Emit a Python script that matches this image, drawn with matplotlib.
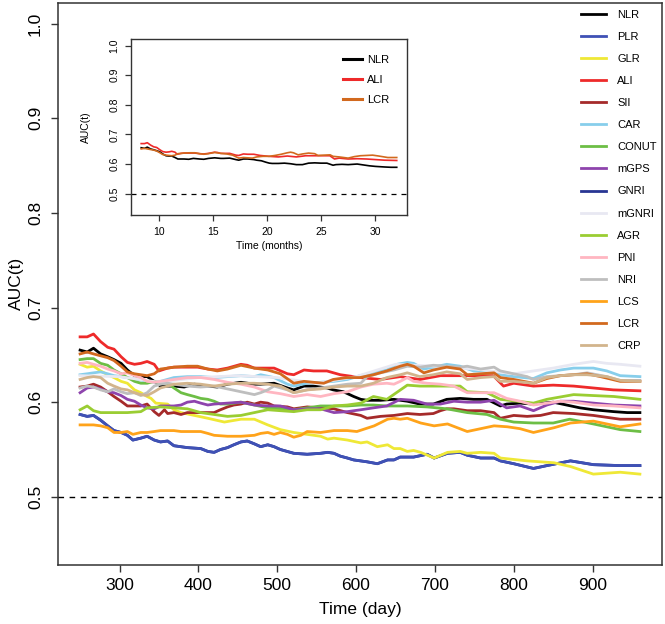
import matplotlib
matplotlib.use("Agg")
import matplotlib.pyplot as plt
from matplotlib.lines import Line2D

plt.rcParams['font.family'] = ['Liberation Sans', 'DejaVu Sans']

# ---------------- data (time in days, AUC(t)) ----------------
NLR_days = [250,259,267,276,285,293,302,310,319,327,335,344,352,361,369,382,395,412,424,437,
            454,471,479,496,513,521,534,546,563,571,584,597,606,614,631,648,665,681,698,715,
            732,749,766,783,791,808,825,850,867,884,901,927,944,960]
NLR_vals = [.655,.653,.657,.651,.648,.645,.641,.634,.628,.627,.627,.622,.617,.617,.617,.616,.619,.617,.616,.619,
            .621,.619,.619,.620,.615,.613,.617,.617,.615,.613,.611,.606,.603,.602,.602,.603,.601,.598,.598,.603,
            .604,.603,.603,.596,.598,.599,.598,.600,.597,.594,.592,.590,.589,.589]

PLR_days = [250,259,267,276,285,293,302,310,317,327,335,344,352,361,369,386,403,412,420,428,
            437,445,454,462,471,479,488,496,504,521,538,555,564,572,580,589,597,614,627,640,
            648,656,673,690,699,716,732,741,758,775,783,800,825,842,872,901,935,960]
PLR_vals = [.587,.585,.586,.581,.575,.570,.568,.565,.560,.562,.564,.560,.558,.559,.554,.552,.551,.548,.547,.550,
            .552,.555,.558,.559,.556,.553,.555,.553,.550,.546,.545,.546,.547,.546,.543,.541,.539,.537,.535,.539,
            .539,.542,.542,.545,.541,.546,.547,.544,.541,.541,.538,.535,.530,.533,.538,.534,.533,.533]

GLR_days = [250,259,267,276,285,293,302,310,319,327,335,340,346,361,369,378,395,412,433,454,
            471,488,504,521,538,555,564,572,589,606,614,627,640,648,656,665,673,682,699,716,
            732,741,758,775,783,817,851,872,901,935,960]
GLR_vals = [.640,.637,.638,.633,.629,.626,.622,.620,.613,.610,.606,.604,.599,.598,.592,.589,.586,.583,.579,.582,
            .582,.576,.571,.568,.566,.564,.561,.562,.560,.557,.558,.553,.555,.551,.551,.548,.549,.547,.541,.547,
            .548,.546,.547,.546,.541,.538,.536,.532,.524,.526,.524]

ALI_days = [250,259,267,276,285,293,302,310,319,327,335,344,350,361,369,386,399,412,424,437,
            454,462,471,488,496,513,521,534,546,563,580,597,605,631,656,681,707,732,749,774,
            787,800,825,850,876,901,926,960]
ALI_vals = [.669,.669,.672,.664,.658,.656,.648,.642,.640,.641,.643,.640,.633,.636,.637,.637,.637,.635,.634,.636,
            .640,.639,.636,.636,.636,.630,.629,.634,.633,.633,.629,.627,.626,.624,.627,.624,.628,.628,.628,.628,
            .617,.620,.617,.618,.617,.615,.613,.612]

SII_days = [250,259,267,276,285,293,302,310,319,327,335,344,350,357,361,369,378,386,403,420,
            428,437,445,454,462,471,479,488,496,513,521,538,555,572,589,606,614,631,648,665,
            681,698,707,715,724,741,758,775,783,800,817,834,850,876,901,935,960]
SII_vals = [.616,.617,.619,.616,.611,.606,.601,.596,.596,.596,.598,.590,.586,.592,.588,.589,.587,.589,.589,.589,
            .592,.595,.597,.598,.600,.598,.600,.599,.596,.595,.593,.595,.594,.593,.589,.586,.583,.585,.586,.588,
            .587,.588,.591,.593,.593,.591,.591,.589,.583,.586,.585,.586,.589,.588,.586,.582,.582]

CAR_days = [250,259,267,276,285,293,302,310,323,335,344,352,369,386,403,420,437,454,471,479,
            496,513,521,538,555,572,589,605,622,639,652,665,673,686,698,715,732,749,766,783,
            800,825,842,859,876,901,918,935,960]
CAR_vals = [.629,.630,.631,.632,.630,.628,.627,.626,.624,.622,.621,.622,.626,.627,.627,.626,.627,.628,.627,.629,
            .626,.619,.617,.620,.621,.622,.624,.628,.631,.634,.640,.642,.641,.635,.637,.640,.638,.633,.633,.629,
            .627,.625,.631,.634,.636,.636,.633,.628,.627]

CONUT_days = [250,259,267,276,285,293,302,310,319,327,335,344,352,361,369,378,386,395,403,412,
              420,428,437,454,471,488,504,521,538,555,572,589,606,622,639,665,690,715,741,766,
              783,800,825,850,871,901,935,960]
CONUT_vals = [.645,.646,.646,.641,.639,.634,.630,.626,.622,.620,.620,.622,.620,.620,.615,.610,.608,.606,.604,.603,
              .601,.598,.598,.600,.597,.594,.593,.592,.594,.596,.596,.596,.597,.597,.596,.596,.595,.593,.589,.587,
              .582,.579,.578,.578,.582,.577,.571,.569]

mGPS_days = [250,259,267,276,285,293,302,310,319,327,335,344,352,361,369,378,386,395,403,412,
             420,437,454,471,488,504,521,538,555,572,589,606,622,639,656,673,690,707,724,741,
             758,775,791,808,825,842,859,876,901,927,960]
mGPS_vals = [.610,.615,.616,.614,.611,.610,.607,.603,.601,.597,.594,.593,.596,.596,.596,.597,.600,.601,.599,.597,
             .598,.599,.600,.597,.596,.596,.592,.593,.593,.589,.590,.592,.594,.596,.603,.602,.598,.598,.601,.600,
             .600,.602,.594,.596,.591,.597,.601,.601,.599,.597,.596]

# GNRI is hidden beneath PLR in the reference
GNRI_days = PLR_days
GNRI_vals = PLR_vals

mGNRI_days = [250,300,350,400,450,500,550,600,650,700,750,800,850,876,901,918,935,960]
mGNRI_vals = [.628,.627,.621,.626,.628,.626,.620,.627,.640,.638,.635,.630,.636,.640,.643,.641,.640,.638]

AGR_days = [250,259,267,276,293,310,327,335,352,369,386,403,420,437,454,471,488,504,521,538,
            555,572,589,606,622,639,665,681,707,732,741,766,783,825,842,876,901,927,960]
AGR_vals = [.592,.596,.591,.589,.589,.589,.590,.594,.595,.594,.593,.589,.587,.585,.586,.589,.592,.591,.590,.592,
            .592,.596,.597,.599,.606,.603,.618,.617,.617,.617,.611,.610,.603,.599,.603,.608,.607,.606,.603]

PNI_days = [250,259,267,276,285,293,302,310,319,327,335,344,352,361,369,386,403,420,437,454,
            471,488,504,521,538,555,572,589,606,622,639,648,656,665,673,690,707,724,741,758,
            775,791,808,825,842,859,876,901,927,960]
PNI_vals = [.641,.642,.640,.638,.635,.633,.630,.631,.628,.626,.622,.621,.622,.623,.624,.626,.626,.624,.621,.619,
            .616,.611,.609,.606,.608,.606,.609,.611,.616,.619,.620,.619,.622,.626,.622,.620,.619,.617,.610,.610,
            .610,.604,.601,.597,.599,.601,.600,.597,.596,.594]

NRI_days = [250,259,267,276,285,293,302,310,319,327,335,344,352,361,369,386,403,420,437,454,
            471,479,488,496,513,521,538,555,572,589,606,614,631,648,665,681,698,715,732,741,
            758,775,783,800,817,825,842,859,876,893,918,935,960]
NRI_vals = [.615,.617,.616,.613,.611,.614,.611,.609,.610,.607,.610,.617,.619,.620,.619,.617,.616,.617,.614,.611,
            .608,.610,.613,.617,.613,.610,.613,.615,.617,.619,.620,.627,.631,.634,.638,.637,.639,.638,.637,.638,
            .635,.637,.633,.630,.627,.624,.627,.628,.629,.631,.627,.623,.623]

LCS_days = [250,259,267,276,285,293,302,310,317,327,335,344,352,369,378,386,403,412,420,437,
            454,471,479,488,496,504,513,521,530,538,555,572,589,601,623,640,648,656,665,682,
            699,716,741,758,775,792,808,825,851,872,901,935,960]
LCS_vals = [.576,.576,.576,.575,.573,.568,.568,.569,.566,.568,.568,.569,.570,.570,.569,.569,.569,.567,.565,.564,
            .564,.565,.567,.568,.566,.568,.566,.563,.565,.569,.568,.570,.570,.569,.575,.582,.583,.582,.583,.578,
            .575,.577,.569,.572,.575,.574,.572,.568,.573,.578,.580,.574,.577]

LCR_days = [250,259,267,276,285,293,302,310,319,327,335,344,352,361,369,386,399,412,424,437,
            454,471,488,504,521,534,546,559,571,588,605,622,639,656,665,673,686,698,715,732,
            741,758,775,783,800,825,842,859,876,893,910,935,960]
LCR_vals = [.651,.653,.651,.649,.647,.644,.638,.632,.630,.629,.628,.630,.635,.636,.637,.638,.638,.635,.633,.635,
            .639,.636,.634,.630,.620,.622,.621,.620,.624,.626,.626,.629,.633,.638,.640,.638,.631,.634,.637,.635,
            .629,.630,.631,.626,.624,.620,.625,.628,.629,.630,.627,.622,.622]

CRP_days = [250,259,267,276,285,293,302,310,319,327,335,344,352,361,369,386,403,420,437,454,
            471,488,504,521,538,555,572,589,606,622,639,656,665,681,698,715,732,741,758,775,
            783,800,825,842,859,876,893,918,935,960]
CRP_vals = [.624,.626,.627,.626,.620,.617,.614,.613,.610,.608,.607,.611,.615,.617,.619,.620,.619,.617,.619,.620,
            .620,.619,.617,.610,.613,.614,.616,.617,.617,.620,.626,.629,.631,.627,.629,.632,.630,.624,.626,.627,
            .622,.622,.620,.626,.628,.629,.629,.627,.623,.622]

markers = ["NLR", "PLR", "GLR", "ALI", "SII", "CAR", "CONUT", "mGPS", "GNRI", "mGNRI",
           "AGR", "PNI", "NRI", "LCS", "LCR", "CRP"]
colors = ["#000000", "#3F51B5", "#EFE836", "#EE2A2A", "#A52A2A", "#87CEEB", "#6DBE45", "#8E44AD",
          "#283593", "#E8E8F2", "#9ACD32", "#FFB6C1", "#BEBEBE", "#FFA31A", "#D2691E", "#D2B48C"]
series = {
    "NLR": (NLR_days, NLR_vals), "PLR": (PLR_days, PLR_vals), "GLR": (GLR_days, GLR_vals),
    "ALI": (ALI_days, ALI_vals), "SII": (SII_days, SII_vals), "CAR": (CAR_days, CAR_vals),
    "CONUT": (CONUT_days, CONUT_vals), "mGPS": (mGPS_days, mGPS_vals), "GNRI": (GNRI_days, GNRI_vals),
    "mGNRI": (mGNRI_days, mGNRI_vals), "AGR": (AGR_days, AGR_vals), "PNI": (PNI_days, PNI_vals),
    "NRI": (NRI_days, NRI_vals), "LCS": (LCS_days, LCS_vals), "LCR": (LCR_days, LCR_vals),
    "CRP": (CRP_days, CRP_vals),
}
inset_markers = ["NLR", "ALI", "LCR"]
days_per_month = 30.0

xticks = [300, 400, 500, 600, 700, 800, 900]
yticks = [0.5, 0.6, 0.7, 0.8, 0.9, 1.0]
inset_xticks = [10, 15, 20, 25, 30]

# ---------------- figure ----------------
W, H = 665, 624
fig = plt.figure(figsize=(W / 100, H / 100), dpi=100)
edge = "#333333"

ax = fig.add_axes([57.7 / W, 1 - 565 / H, (662.3 - 57.7) / W, (565 - 2.7) / H])
zorders = {"GNRI": 1}
for name, col in zip(markers, colors):
    d, v = series[name]
    ax.plot(d, v, color=col, lw=2.0, solid_joinstyle="round", zorder=zorders.get(name, 2))
ax.axhline(0.5, color="black", lw=1.0, ls=(0, (4, 4)), zorder=3)

ax.set_xlim(221.6, 988.4)
ax.set_ylim(0.428, 1.022)
ax.set_xticks(xticks)
ax.set_xticklabels([str(t) for t in xticks])
ax.set_yticks(yticks)
ax.set_yticklabels([f"{t:.1f}" for t in yticks], rotation=90, va="center")
ax.tick_params(axis="both", direction="out", length=5, width=1, color=edge, labelsize=12.5, pad=4.5)
ax.tick_params(axis="y", pad=5.5)
for s in ax.spines.values():
    s.set_color(edge)
    s.set_linewidth(1.1)
ax.set_xlabel("Time (day)", fontsize=12.5, labelpad=6)
ax.set_ylabel("AUC(t)", fontsize=12.5, labelpad=3)

handles = [Line2D([], [], color=c, lw=2.0) for c in colors]
ax.legend(handles, markers, loc="upper left", bbox_to_anchor=(581 / W, 1 - 9.6 / H),
          bbox_transform=fig.transFigure, frameon=False, fontsize=8, handlelength=2.25,
          handletextpad=1.0, labelspacing=1.09, borderpad=0, borderaxespad=0)

# ---------------- inset ----------------
ax2 = fig.add_axes([131 / W, 1 - 215 / H, (407 - 131) / W, (215 - 39) / H])
inset_colors = [colors[markers.index(n)] for n in inset_markers]
for name, col in zip(inset_markers, inset_colors):
    d, v = series[name]
    ax2.plot([x / days_per_month for x in d], v, color=col, lw=1.2)
ax2.axhline(0.5, color="black", lw=0.9, ls=(0, (4, 4)))
ax2.set_xlim(7.39, 32.95)
ax2.set_ylim(0.428, 1.022)
ax2.set_xticks(inset_xticks)
ax2.set_xticklabels([str(t) for t in inset_xticks])
ax2.set_yticks(yticks)
ax2.set_yticklabels([f"{t:.1f}" for t in yticks], rotation=90, va="center")
ax2.tick_params(axis="both", direction="out", length=4.3, width=0.9, color=edge, labelsize=7.5, pad=3)
ax2.tick_params(axis="x", pad=4.5)
ax2.tick_params(axis="y", pad=4)
for s in ax2.spines.values():
    s.set_color(edge)
    s.set_linewidth(1.0)
ax2.set_xlabel("Time (months)", fontsize=7.5, labelpad=3)
ax2.set_ylabel("AUC(t)", fontsize=7.5, labelpad=13)
h2 = [Line2D([], [], color=c, lw=2.2) for c in inset_colors]
ax2.legend(h2, inset_markers, loc="upper left", bbox_to_anchor=(343 / W, 1 - 55.0 / H),
           bbox_transform=fig.transFigure, frameon=False, fontsize=8, handlelength=1.7,
           handletextpad=0.45, labelspacing=0.88, borderpad=0, borderaxespad=0)

fig.savefig("out.png", dpi=100)
